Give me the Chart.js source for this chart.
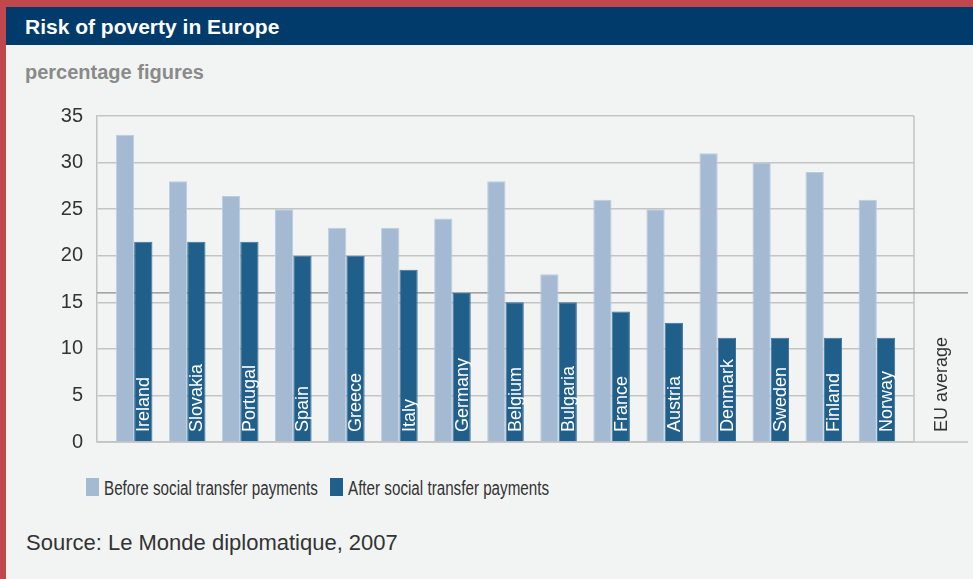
<!DOCTYPE html>
<html>
<head>
<meta charset="utf-8">
<script src="https://cdn.jsdelivr.net/npm/chart.js@4.4.0/dist/chart.umd.min.js"></script>
<style>
  body { margin: 0; width: 973px; height: 579px; background: #f2f4f4; position: relative; overflow: hidden; font-family: "Liberation Sans", Arial, sans-serif; }
  #redTop { position: absolute; left: 0; top: 0; width: 973px; height: 7px; background: #c0474b; }
  #redLeft { position: absolute; left: 0; top: 0; width: 6px; height: 579px; background: #c0474b; }
  #titleBar { position: absolute; left: 6px; top: 7px; width: 967px; height: 38px; background: #003b6b; }
  #titleBar span { position: absolute; left: 19px; top: 9px; color: #fff; font-weight: bold; font-size: 21px; line-height: 1; }
  #subtitle { position: absolute; left: 25px; top: 62px; color: #8a8a8a; font-weight: bold; font-size: 20px; line-height: 1; }
  #source { position: absolute; left: 26px; top: 530px; color: #333; font-size: 22px; }
  #chart { position: absolute; left: 0; top: 0; }
  .legend-box { position: absolute; top: 478px; width: 13px; height: 18px; }
  .legend-text { position: absolute; top: 478px; font-size: 20px; line-height: 1; color: #333; white-space: nowrap; transform: scaleX(0.76); transform-origin: 0 0; }
</style>
</head>
<body>
<div id="redTop"></div>
<div id="redLeft"></div>
<div id="titleBar"><span>Risk of poverty in Europe</span></div>
<div id="subtitle">percentage figures</div>
<div id="legend"></div>
<div id="source">Source: Le Monde diplomatique, 2007</div>
<canvas id="chart" width="973" height="579"></canvas>
<script>
const countries = ["Ireland", "Slovakia", "Portugal", "Spain", "Greece", "Italy", "Germany", "Belgium", "Bulgaria", "France", "Austria", "Denmark", "Sweden", "Finland", "Norway"];
const beforeTransfers = [33, 28, 26.4, 25, 23, 23, 24, 28, 18, 26, 25, 31, 30, 29, 26];
const afterTransfers = [21.5, 21.5, 21.5, 20, 20, 18.5, 16, 15, 15, 14, 12.8, 11.2, 11.2, 11.2, 11.2];
const euAverage = 16;
const euLabel = "EU average";
const seriesNames = ["Before social transfer payments", "After social transfer payments"];
const yMin = 0;
const yMax = 35;
const yStep = 5;

const lightBlue = "#a3bad2";
const darkBlue = "#215f8b";
const textFont = "'Liberation Sans', Arial, sans-serif";

function to_points(values) {
  let points = [];
  let i = 0;
  while (i < values.length) {
    points.push({ x: i, y: values[i] });
    i++;
  }
  return points;
}

// frame, extended baseline and the EU average line
const framePlugin = {
  id: "frame",
  beforeDatasetsDraw(chart) {
    const ctx = chart.ctx;
    const area = chart.chartArea;
    const y = chart.scales.y;
    const extendTo = 968;
    ctx.save();
    ctx.strokeStyle = "#c2c2c2";
    ctx.lineWidth = 1.5;
    ctx.beginPath();
    ctx.moveTo(area.right, area.top);
    ctx.lineTo(area.right, area.bottom);
    ctx.moveTo(area.left, y.getPixelForValue(0));
    ctx.lineTo(extendTo, y.getPixelForValue(0));
    ctx.stroke();

    ctx.strokeStyle = "#8c8c8c";
    ctx.lineWidth = 1.3;
    ctx.beginPath();
    ctx.moveTo(area.left, y.getPixelForValue(euAverage));
    ctx.lineTo(extendTo, y.getPixelForValue(euAverage));
    ctx.stroke();
    ctx.restore();
  },
  afterDatasetsDraw(chart) {
    const ctx = chart.ctx;
    const area = chart.chartArea;
    const base = chart.scales.y.getPixelForValue(0) - 10;
    const bars = chart.getDatasetMeta(1).data;
    ctx.save();
    ctx.font = "18px " + textFont;
    ctx.textAlign = "left";
    ctx.textBaseline = "middle";
    ctx.fillStyle = "#ffffff";
    let k = 0;
    while (k < bars.length) {
      ctx.save();
      ctx.translate(bars[k].x + 1, base);
      ctx.rotate(-Math.PI / 2);
      ctx.fillText(countries[k], 0, 0);
      ctx.restore();
      k++;
    }
    ctx.fillStyle = "#333333";
    ctx.translate(area.right + 28, base);
    ctx.rotate(-Math.PI / 2);
    ctx.fillText(euLabel, 0, 0);
    ctx.restore();
  },
};

const chart = new Chart(document.getElementById("chart"), {
  type: "bar",
  data: {
    datasets: [
      {
        label: seriesNames[0],
        data: to_points(beforeTransfers),
        backgroundColor: lightBlue,
        borderColor: "#bdcde0",
        borderWidth: 1,
      },
      {
        label: seriesNames[1],
        data: to_points(afterTransfers),
        backgroundColor: darkBlue,
        borderColor: "#3a719b",
        borderWidth: 1,
      },
    ],
  },
  options: {
    responsive: false,
    animation: false,
    categoryPercentage: 0.69,
    barPercentage: 1,
    layout: {
      padding: { left: 0, right: 59, top: 116, bottom: 137 },
    },
    scales: {
      x: {
        type: "linear",
        min: -0.7,
        max: 14.7,
        offset: false,
        display: false,
      },
      y: {
        min: yMin,
        max: yMax,
        grid: { color: "#c4c4c4", lineWidth: 1.5, drawTicks: false },
        border: { color: "#c2c2c2", width: 1.5 },
        ticks: {
          stepSize: yStep,
          padding: 14,
          color: "#333333",
          font: { family: textFont, size: 20 },
        },
        afterFit: function (scale) {
          scale.width = 97;
        },
      },
    },
    plugins: {
      tooltip: { enabled: false },
      legend: { display: false },
    },
  },
  plugins: [framePlugin],
});

// legend built from the chart's datasets
function build_legend(chart) {
  const holder = document.getElementById("legend");
  const boxLeft = [86, 330];
  chart.data.datasets.forEach(function (ds, i) {
    let box = document.createElement("div");
    box.className = "legend-box";
    box.style.left = boxLeft[i] + "px";
    box.style.background = ds.backgroundColor;
    holder.appendChild(box);
    let txt = document.createElement("div");
    txt.className = "legend-text";
    txt.style.left = boxLeft[i] + 18 + "px";
    txt.textContent = ds.label;
    holder.appendChild(txt);
  });
}
build_legend(chart);
</script>
</body>
</html>
